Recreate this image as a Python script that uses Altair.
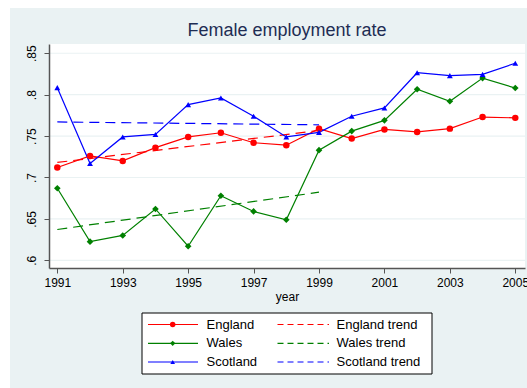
import altair as alt
import pandas as pd

# Female employment rate by region, 1991-2005
years = list(range(1991, 2006))
england = [0.712, 0.726, 0.720, 0.736, 0.749, 0.754, 0.742, 0.739, 0.759,
           0.747, 0.758, 0.755, 0.759, 0.773, 0.772]
wales = [0.687, 0.6225, 0.630, 0.662, 0.617, 0.678, 0.659, 0.649, 0.733,
         0.756, 0.769, 0.8065, 0.792, 0.820, 0.808]
scotland = [0.8085, 0.717, 0.749, 0.752, 0.788, 0.796, 0.774, 0.749, 0.7545,
            0.774, 0.784, 0.8265, 0.823, 0.8245, 0.838]

regions = ["England", "Wales", "Scotland"]
colors = ["#FF0000", "#008000", "#0000FF"]
shapes = ["circle", "diamond", "triangle-up"]
marker_sizes = [42, 44, 34]
legend_marker_sizes = [30, 28, 22]
y_ticks = [0.6, 0.65, 0.7, 0.75, 0.8, 0.85]
x_ticks = [1991, 1993, 1995, 1997, 1999, 2001, 2003, 2005]
trend_end = 1999

BG = "#EAF2F3"
W, H = 476, 224

rows = []
for name, vals in zip(regions, [england, wales, scotland]):
    for yr, v in zip(years, vals):
        rows.append({"year": yr, "rate": v, "region": name})
df = pd.DataFrame(rows)

x_scale = alt.Scale(domain=[1990.746, 2005.297], nice=False, zero=False)
y_scale = alt.Scale(domain=[0.5907, 0.8612], nice=False, zero=False)
color_scale = alt.Scale(domain=regions, range=colors)

x_axis = alt.Axis(values=x_ticks, format="d", title="year", grid=False,
                  domainColor="#555555", domainWidth=1.5, tickColor="#555555",
                  tickSize=5, labelFontSize=12, labelColor="#000000",
                  titleFontSize=12, titleFontWeight="normal", titleColor="#000000",
                  labelPadding=4, titlePadding=3, zindex=2,
                  labelFont="Liberation Sans", titleFont="Liberation Sans")
y_axis = alt.Axis(values=y_ticks, labelExpr="replace(format(datum.value, '.2~f'), '0.', '.')",
                  title=None, grid=False, domainColor="#555555", domainWidth=1.5,
                  tickColor="#555555", tickSize=5, labelFontSize=12,
                  labelColor="#000000", labelAngle=270, labelAlign="center",
                  labelBaseline="bottom", labelPadding=6, zindex=2,
                  labelFont="Liberation Sans")

one = alt.Data(values=[{"k": 0}])

# Outer light panel with white margin at top-left, and the white plot region
outer = alt.Chart(one).mark_rect(color=BG).encode(
    x=alt.value(10 - 49), x2=alt.value(527 - 49),
    y=alt.value(8 - 44), y2=alt.value(388 - 44))
inner = alt.Chart(one).mark_rect(color="white").encode(
    x=alt.value(0), x2=alt.value(W), y=alt.value(0), y2=alt.value(H))

grid = alt.Chart(pd.DataFrame({"t": y_ticks})).mark_rule(
    color=BG, strokeWidth=1.2).encode(
    y=alt.Y("t:Q", scale=y_scale, axis=y_axis),
    x=alt.value(0), x2=alt.value(W))

base = alt.Chart(df)

lines = base.mark_line(strokeWidth=1.2).encode(
    x=alt.X("year:Q", scale=x_scale, axis=x_axis),
    y=alt.Y("rate:Q", scale=y_scale),
    color=alt.Color("region:N", scale=color_scale, legend=None),
    detail="region:N")

trend = base.transform_filter(alt.datum.year <= trend_end).transform_regression(
    "year", "rate", groupby=["region"], extent=[1991, trend_end]
).mark_line(strokeWidth=1.2, strokeDash=[10, 6]).encode(
    x=alt.X("year:Q", scale=x_scale),
    y=alt.Y("rate:Q", scale=y_scale),
    color=alt.Color("region:N", scale=color_scale, legend=None),
    detail="region:N")

point_layers = []
for name, col, shp, sz in zip(regions, colors, shapes, marker_sizes):
    point_layers.append(
        base.transform_filter(alt.datum.region == name).mark_point(
            shape=shp, filled=True, opacity=1, size=sz, color=col).encode(
            x=alt.X("year:Q", scale=x_scale),
            y=alt.Y("rate:Q", scale=y_scale)))

title = alt.Chart(one).mark_text(
    text="Female employment rate", fontSize=18, color="#1E2D53",
    font="Liberation Sans", align="center", baseline="middle").encode(
    x=alt.value(W / 2), y=alt.value(31 - 44))

# Legend box below the x axis title
lx, ly = 142 - 49, 313 - 44
legend_layers = [
    alt.Chart(one).mark_rect(fill="white", stroke="#000000", strokeWidth=1).encode(
        x=alt.value(lx), x2=alt.value(432 - 49),
        y=alt.value(ly), y2=alt.value(374 - 44))
]
row_y = [324.5 - 44, 343.3 - 44, 362 - 44]
trend_labels = [f"{r} trend" for r in regions]
for name, tname, col, shp, sz, yy in zip(regions, trend_labels, colors, shapes,
                                         legend_marker_sizes, row_y):
    legend_layers += [
        alt.Chart(one).mark_rule(color=col, strokeWidth=1.2).encode(
            x=alt.value(148 - 49), x2=alt.value(198 - 49), y=alt.value(yy)),
        alt.Chart(one).mark_point(shape=shp, filled=True, opacity=1, size=sz,
                                  color=col).encode(
            x=alt.value(172.7 - 49), y=alt.value(yy)),
        alt.Chart(one).mark_text(text=name, fontSize=13, align="left",
                                 baseline="middle", font="Liberation Sans",
                                 color="#000000").encode(
            x=alt.value(206.5 - 49), y=alt.value(yy)),
        alt.Chart(one).mark_rule(color=col, strokeWidth=1.2,
                                 strokeDash=[6, 4]).encode(
            x=alt.value(277.5 - 49), x2=alt.value(329 - 49), y=alt.value(yy)),
        alt.Chart(one).mark_text(text=tname, fontSize=13, align="left",
                                 baseline="middle", font="Liberation Sans",
                                 color="#000000").encode(
            x=alt.value(336.5 - 49), y=alt.value(yy)),
    ]

chart = alt.layer(
    outer, inner, grid, trend, lines, *point_layers, title, *legend_layers
).properties(
    width=W, height=H,
    autosize=alt.AutoSizeParams(type="none"),
    padding={"left": 49, "top": 44, "right": 2, "bottom": 120},
    background="white",
).configure_view(stroke=None)

chart.save("out.html", embed_options={"renderer": "svg", "actions": False})
